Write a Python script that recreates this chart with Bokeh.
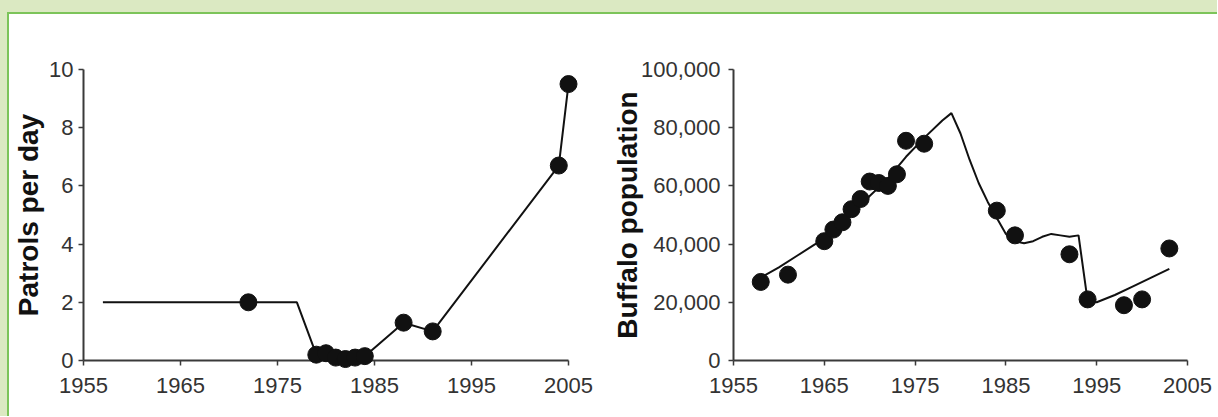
from bokeh.plotting import figure
from bokeh.models import Range1d, FixedTicker, NumeralTickFormatter, Spacer
from bokeh.layouts import column, row
from bokeh.embed import file_html
from bokeh.resources import INLINE

# ---- data: patrols per day ----
patrol_line_years = [1957, 1972, 1977, 1979, 1980, 1981, 1982, 1983, 1984, 1988, 1991, 2004, 2005]
patrol_line_values = [2.0, 2.0, 2.0, 0.2, 0.25, 0.1, 0.05, 0.1, 0.15, 1.3, 1.0, 6.7, 9.5]
patrol_dot_years = [1972, 1979, 1980, 1981, 1982, 1983, 1984, 1988, 1991, 2004, 2005]
patrol_dot_values = [2.0, 0.2, 0.25, 0.1, 0.05, 0.1, 0.15, 1.3, 1.0, 6.7, 9.5]

# ---- data: buffalo population ----
buffalo_obs_years = [1958, 1961, 1965, 1966, 1967, 1968, 1969, 1970, 1971, 1972, 1973,
                     1974, 1976, 1984, 1986, 1992, 1994, 1998, 2000, 2003]
buffalo_obs = [27000, 29500, 41000, 45000, 47500, 52000, 55500, 61500, 61000, 60000, 64000,
               75500, 74500, 51500, 43000, 36500, 21000, 19000, 21000, 38500]
model_years = [1958, 1960, 1962, 1964, 1966, 1968, 1970, 1972, 1974, 1976, 1978, 1979,
               1980, 1981, 1982, 1983, 1984, 1985, 1986, 1987, 1988, 1989, 1990, 1991,
               1992, 1993, 1994, 1995, 1997, 1999, 2001, 2003]
model_values = [28500, 32000, 36000, 40000, 44500, 50000, 56500, 62500, 70000, 76500, 82500, 85000,
                78000, 69000, 61000, 54500, 49000, 43500, 41000, 40300, 41000, 42500, 43500, 43000,
                42500, 43000, 20500, 20000, 22500, 25500, 28500, 31500]

x_ticks = [1955, 1965, 1975, 1985, 1995, 2005]
patrol_ticks = [0, 2, 4, 6, 8, 10]
buffalo_ticks = [0, 20000, 40000, 60000, 80000, 100000]

TICK_FONT = "Liberation Sans"
LABEL_FONT = "Liberation Sans"
GREEN_LIGHT = "#dbe9c2"
GREEN = "#7cc45a"


def style(p, xticks, yticks, label):
    p.outline_line_color = None
    p.xgrid.visible = False
    p.ygrid.visible = False
    p.xaxis.ticker = FixedTicker(ticks=xticks)
    p.yaxis.ticker = FixedTicker(ticks=yticks)
    for ax in (p.xaxis[0], p.yaxis[0]):
        ax.axis_line_color = "#3a3a3a"
        ax.axis_line_width = 2
        ax.major_tick_line_color = "#3a3a3a"
        ax.major_tick_line_width = 1.5
        ax.major_tick_out = 5
        ax.major_tick_in = 0
        ax.minor_tick_out = 0
        ax.minor_tick_in = 0
        ax.major_label_text_font = TICK_FONT
        ax.major_label_text_font_size = "22px"
        ax.major_label_text_color = "#333333"
    p.xaxis.major_label_standoff = 12
    p.yaxis.axis_label = label
    p.yaxis.axis_label_text_font = LABEL_FONT
    p.yaxis.axis_label_text_font_style = "bold"
    p.yaxis.axis_label_text_font_size = "28px"
    p.yaxis.axis_label_text_color = "#111111"


H = 402

p1 = figure(width=591, height=H, x_range=Range1d(1955, 2005), y_range=Range1d(0, 10),
            output_backend="svg", toolbar_location=None,
            min_border_left=74, min_border_right=32, min_border_top=55, min_border_bottom=56)
style(p1, x_ticks, patrol_ticks, "Patrols per day")
p1.yaxis.major_label_standoff = 5
p1.yaxis.axis_label_standoff = 2
p1.line(patrol_line_years, patrol_line_values, line_color="#111111", line_width=2, level="overlay")
p1.scatter(patrol_dot_years, patrol_dot_values, size=17, fill_color="#111111",
           line_color="#111111", level="overlay")

p2 = figure(width=617, height=H, x_range=Range1d(1955, 2005), y_range=Range1d(0, 100000),
            output_backend="svg", toolbar_location=None,
            min_border_left=133, min_border_right=30, min_border_top=33, min_border_bottom=53)
style(p2, x_ticks, buffalo_ticks, "Buffalo population")
p2.yaxis.formatter = NumeralTickFormatter(format="0,0")
p2.yaxis.major_label_standoff = 8
p2.yaxis.axis_label_standoff = -5
p2.line(model_years, model_values, line_color="#111111", line_width=2, level="overlay")
p2.scatter(buffalo_obs_years, buffalo_obs, size=17, fill_color="#111111",
           line_color="#111111", level="overlay")

top_band = Spacer(width=1217, height=12, styles={"background-color": GREEN_LIGHT})
left_band = Spacer(width=7, height=H + 2, styles={"background-color": GREEN_LIGHT})
top_border = Spacer(width=1210, height=2, styles={"background-color": GREEN})
left_border = Spacer(width=2, height=H, styles={"background-color": GREEN})

layout = column(top_band,
                row(left_band,
                    column(top_border, row(left_border, p1, p2))))

open("out.html", "w").write(file_html(layout, INLINE))
